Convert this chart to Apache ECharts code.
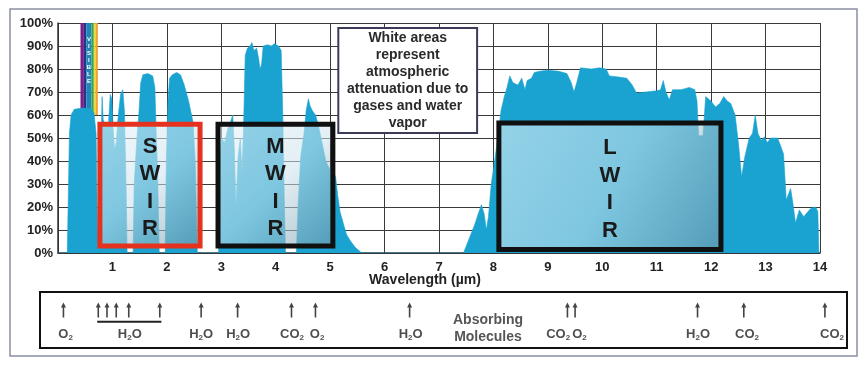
<!DOCTYPE html>
<html><head><meta charset="utf-8">
<script src="https://cdn.jsdelivr.net/npm/echarts@6/dist/echarts.min.js"></script>
<style>html,body{margin:0;padding:0;background:#fff}#c{width:867px;height:365px}</style>
</head><body><div id="c"></div>
<script>
// ---- spectrum (wavelength in µm, transmission in %) ----
const wavelengths = [0,0.17,0.19,0.21,0.24,0.30,0.45,0.60,0.66,0.70,0.72,0.74,0.77,0.79,0.81,0.83,0.88,0.93,0.96,0.99,1.01,1.04,1.07,1.10,1.15,1.19,1.22,1.25,1.27,1.38,1.40,1.45,1.49,1.52,1.56,1.65,1.74,1.78,1.80,1.83,1.86,1.97,1.99,2.02,2.05,2.10,2.18,2.25,2.32,2.40,2.48,2.52,2.56,2.95,2.97,3.00,3.06,3.12,3.17,3.21,3.24,3.27,3.31,3.35,3.38,3.41,3.44,3.48,3.53,3.56,3.60,3.65,3.69,3.71,3.74,3.77,3.85,3.92,3.98,4.05,4.10,4.13,4.16,4.18,4.38,4.41,4.46,4.52,4.56,4.60,4.63,4.67,4.73,4.78,4.85,4.92,4.98,5.05,5.10,5.14,5.18,5.24,5.30,5.38,5.46,5.58,7.45,7.55,7.65,7.72,7.78,7.83,7.87,7.91,7.96,8.01,8.08,8.14,8.20,8.25,8.30,8.36,8.45,8.52,8.58,8.62,8.70,8.75,8.85,9.00,9.20,9.35,9.43,9.48,9.53,9.60,9.80,9.95,10.07,10.13,10.30,10.45,10.55,10.63,10.80,11.00,11.07,11.12,11.17,11.23,11.29,11.45,11.60,11.70,11.74,11.77,11.85,11.90,12.00,12.08,12.16,12.23,12.30,12.36,12.44,12.50,12.56,12.62,12.70,12.76,12.81,12.86,12.92,12.98,13.03,13.10,13.22,13.27,13.33,13.38,13.46,13.50,13.55,13.62,13.70,13.78,13.83,13.92,13.96,13.98,14];
const transmission = [0,0,25,52,60,62.5,63,62.8,61,52,20,3,3,45,68,58,55,57,69,67,55,45,48,58,69,71,62,30,0,0,30,50,62,74,77.5,78,77,72,55,35,0,0,40,66,76,77.5,78.5,77.5,73,66,57,40,0,0,40,50,48,54,57,60,45,20,42,50,35,55,86,89,90,91.5,88,89,84,80,82,90,90.5,90,91,90,88,60,20,0,0,20,42,52,62,67,64,62,60,56,48,40,37,36,33,25,18,13,8,5,2.5,0,0,6,12,17,21,17,10,16,30,38,50,62,68,72,77,74,73,76,71,75,76,78.5,79,79.5,79,78,74,70,74,80.5,80,80.5,80,77,76.5,76,73,69.5,70,70.5,71,75,70,66.5,71,71,72,71,66,51,51,68,66,63.5,65,68,66,65,60,48,33,42,50,52,60,52,49,50.5,48,50,50,47,43,23,28,22,13,18.7,15.8,18,19.4,20,18,0,0];

// ---- visible-light stripes ----
const visibleEdges = [0.413,0.475,0.52,0.616,0.658,0.689,0.732];
const visibleColors = ['#7a1f8e','#27367f','#1f86bd','#3aa547','#e9e132','#f1a232'];

// ---- IR bands (boxes) ----
const bandNames = ['SWIR','MWIR','LWIR'];
const bandStart = [0.77, 2.94, 8.10];
const bandEnd = [2.61, 5.05, 12.18];
const bandTop = [56, 56, 56.5];
const bandBottom = [3, 3, 1.5];

// ---- annotation ----
const noteText = ['White areas','represent','atmospheric','attenuation due to','gases and water','vapor'];
const noteRange = [5.15, 7.70, 52.2, 97.8];

// ---- absorbing molecules ----
const absorberPos = [0.10,0.74,0.90,1.07,1.30,1.87,2.63,3.30,4.29,4.73,6.46,9.36,9.50,11.75,12.60,14.09];
const moleculeNames = ['O2','H2O','H2O','H2O','CO2','O2','H2O','CO2','O2','H2O','CO2','CO2'];
const moleculePos = [0.14,1.32,2.63,3.31,4.30,4.76,6.48,9.19,9.58,11.76,12.66,14.22];
const h2oBracket = [0.72, 1.90];

const FONT = "'Liberation Sans', Arial, Helvetica, sans-serif";
const chart = echarts.init(document.getElementById('c'), null, {renderer:'canvas'});

const pxPer = 762/14;
const x2min = -(58-40)/pxPer, x2max = 14 + (847-820)/pxPer;

const boxFill = () => new echarts.graphic.LinearGradient(0,0,1,1,[
  {offset:0, color:'rgba(232,243,248,0.6)'},
  {offset:0.5, color:'rgba(205,227,236,0.56)'},
  {offset:1, color:'rgba(115,148,165,0.62)'}
]);

const stripeAreas = visibleColors.map((c,i)=>[
  {xAxis:visibleEdges[i], yAxis:100, itemStyle:{color:c}},
  {xAxis:visibleEdges[i+1], yAxis:60}
]);
stripeAreas[2][0].label = {show:true, position:'inside', formatter:'V\nI\nS\nI\nB\nL\nE', color:'#fff', fontSize:6, lineHeight:7, fontWeight:'bold', offset:[0,-9]};

const bandAreas = bandNames.map((n,i)=>[
  {name:n, xAxis:bandStart[i], yAxis:bandTop[i],
   itemStyle:{color:boxFill(), borderColor: i===0 ? '#e5321f' : '#101010', borderWidth:5},
   label:{show:true, position:'inside', formatter:n.split('').join('\n'), fontSize:22, lineHeight:27.5, fontWeight:'bold', color:'#1a1a1a', fontFamily:FONT, offset:[0,3]}},
  {xAxis:bandEnd[i], yAxis:bandBottom[i]}
]);

const sub = t => t.replace(/2/g,'{s|2}');

const option = {
  animation:false,
  backgroundColor:'#ffffff',
  textStyle:{fontFamily:FONT},
  graphic:[{type:'rect', shape:{x:10,y:9,width:847,height:347}, style:{fill:'none', stroke:'#8a8ea2', lineWidth:1.5}, z:100}],
  grid:[
    {left:58, right:47, top:23, bottom:112, show:false},
    {left:40, right:20, top:292, height:56, show:true, borderColor:'#111', borderWidth:2, backgroundColor:'transparent'}
  ],
  xAxis:[
    {gridIndex:0, type:'value', min:0, max:14, interval:1,
     axisLine:{show:true, lineStyle:{color:'#333', width:1.5}}, axisTick:{show:false},
     splitLine:{show:true, lineStyle:{color:'#3a3a3a', width:1}},
     axisLabel:{formatter:v=> v===0 ? '' : String(v), color:'#222', fontWeight:'bold', fontSize:13, margin:8, fontFamily:FONT},
     name:'Wavelength (µm)', nameLocation:'middle', nameGap:20, nameMoveOverlap:false,
     nameTextStyle:{fontWeight:'bold', fontSize:14, color:'#222', padding:[0,28,0,0], fontFamily:FONT}},
    {gridIndex:1, type:'value', min:x2min, max:x2max, show:false}
  ],
  yAxis:[
    {gridIndex:0, type:'value', min:0, max:100, interval:10,
     axisLine:{show:true, lineStyle:{color:'#333', width:1.5}}, axisTick:{show:false},
     splitLine:{show:true, lineStyle:{color:'#3a3a3a', width:1}},
     axisLabel:{formatter:'{value}%', color:'#222', fontWeight:'bold', fontSize:13, margin:5, fontFamily:FONT}},
    {gridIndex:1, type:'value', min:0, max:56, inverse:true, show:false}
  ],
  series:[
    {type:'line', name:'visible', data:[], z:1, silent:true,
     markArea:{silent:true, z:1, data:stripeAreas}},
    {type:'line', name:'transmission', z:2, symbol:'none', smooth:false, silent:true,
     data: wavelengths.map((w,i)=>[w, transmission[i]]),
     lineStyle:{width:0.6, color:'#1aa3d0'},
     areaStyle:{color:'#1aa3d0', opacity:1}},
    {type:'line', name:'bands', data:[], z:10, silent:true,
     markArea:{silent:true, z:10, data:bandAreas}},
    {type:'line', name:'note', data:[], z:11, silent:true,
     markArea:{silent:true, z:11, data:[[
       {xAxis:noteRange[0], yAxis:noteRange[3],
        itemStyle:{color:'#fff', borderColor:'#3b3b58', borderWidth:2},
        label:{show:true, position:'inside', formatter:noteText.join('\n'), fontSize:14, lineHeight:17, fontWeight:'bold', color:'#2a2a2a', fontFamily:FONT}},
       {xAxis:noteRange[1], yAxis:noteRange[2]}
     ]]}},
    {type:'scatter', name:'arrows', xAxisIndex:1, yAxisIndex:1, silent:true, z:5,
     symbol:'path://M5,0 L10,8 L6.6,8 L6.6,24 L3.4,24 L3.4,8 L0,8 Z', symbolSize:[5,15],
     itemStyle:{color:'#151515'},
     data: absorberPos.map(x=>[x,18])},
    {type:'line', name:'bracket', xAxisIndex:1, yAxisIndex:1, silent:true, z:5, symbol:'none',
     lineStyle:{color:'#222', width:2},
     data: h2oBracket.map(x=>[x,29.7])},
    {type:'scatter', name:'molecules', xAxisIndex:1, yAxisIndex:1, silent:true, z:5,
     symbolSize:0, itemStyle:{color:'transparent'},
     data: moleculeNames.map((n,i)=>({value:[moleculePos[i],42], lab:sub(n)})),
     label:{show:true, position:'inside', formatter:p=>p.data.lab, fontSize:13, fontWeight:'bold', color:'#222', fontFamily:FONT,
       rich:{s:{fontSize:8, fontWeight:'bold', color:'#222', verticalAlign:'bottom', padding:[7,0,0,0], fontFamily:FONT}}}},
    {type:'scatter', name:'caption', xAxisIndex:1, yAxisIndex:1, silent:true, z:5,
     symbolSize:0, itemStyle:{color:'transparent'},
     data:[[7.90,36.5]],
     label:{show:true, position:'inside', formatter:'Absorbing\nMolecules', fontSize:14, lineHeight:17, fontWeight:'bold', color:'#2a2a2a', fontFamily:FONT}}
  ]
};
chart.setOption(option);
</script></body></html>
